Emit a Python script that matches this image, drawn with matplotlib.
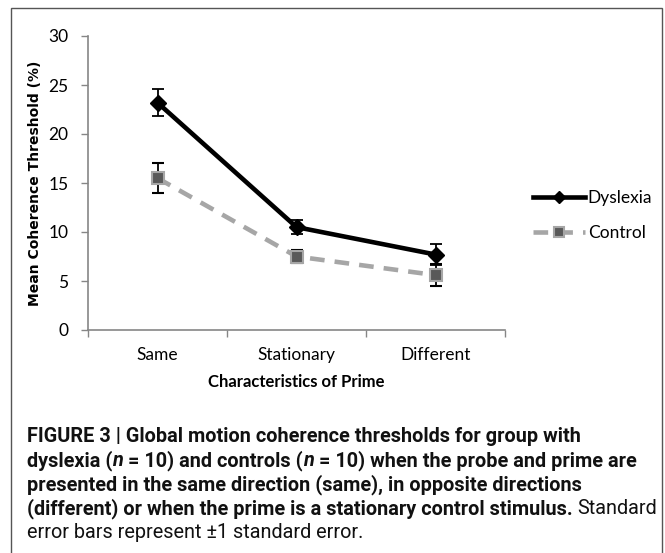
import numpy as np
import matplotlib
matplotlib.use("Agg")
import matplotlib.pyplot as plt
from matplotlib.patches import Rectangle
from matplotlib.lines import Line2D

# data
categories = ["Same", "Stationary", "Different"]
dyslexia = [23.2, 10.5, 7.7]
dyslexia_err = [1.4, 0.75, 1.1]
control = [15.5, 7.5, 5.6]
control_err = [1.5, 0.7, 1.1]

W, H = 665, 553
fig = plt.figure(figsize=(W / 100, H / 100), dpi=100)
ax = fig.add_axes([88 / W, 1 - 330 / H, (505 - 88) / W, (330 - 36) / H])

afont = "Lato"
asize = 12.5
x = np.arange(len(categories))

dys_style = dict(color="black", lw=3.3, marker="D", ms=8, mfc="black", mec="black")
con_style = dict(color="#a6a6a6", lw=3.3, ls="--", dashes=(3.2, 2.2), marker="s",
                 ms=9, mfc="#595959", mec="#a6a6a6", mew=1.5)

ax.errorbar(x, dyslexia, yerr=dyslexia_err, ecolor="black", elinewidth=1.3,
            capsize=4.5, capthick=1.3, zorder=3, **dys_style)
ax.errorbar(x, control, yerr=control_err, ecolor="black", elinewidth=1.3,
            capsize=4.5, capthick=1.3, zorder=4, **con_style)

ax.set_xlim(-0.5, 2.5)
ax.set_ylim(0, 30)
ax.set_yticks(range(0, 31, 5))
ax.set_xticks(x)
ax.set_xticklabels(categories, fontfamily=afont, fontsize=asize)
ax.set_xticks([-0.5, 0.5, 1.5, 2.5], minor=True)
ax.tick_params(axis="x", which="major", length=0, pad=12)
ax.tick_params(axis="x", which="minor", length=5, color="#868686", width=1)
ax.tick_params(axis="y", length=5, color="#868686", width=1, pad=9)
for t in ax.get_yticklabels():
    t.set_fontfamily(afont)
    t.set_fontsize(asize)
for s in ["top", "right"]:
    ax.spines[s].set_visible(False)
for s in ["left", "bottom"]:
    ax.spines[s].set_color("#868686")
    ax.spines[s].set_linewidth(1.2)

ax.set_ylabel("Mean Coherence Threshold (%)", fontfamily="DejaVu Sans",
              fontweight="bold", fontsize=10)
ax.yaxis.set_label_coords((42 - 88) / 417, 0.5)
ax.set_xlabel("Characteristics of Prime", fontfamily=afont, fontweight="bold",
              fontsize=12, labelpad=8)

leg_dys = dict(dys_style, ms=6)
leg_con = dict(con_style, ms=7)
handles = [Line2D([], [], **leg_dys), Line2D([], [], **leg_con)]
fig.legend(handles, ["Dyslexia", "Control"], loc="center left",
           bbox_to_anchor=(533 / W, 1 - 215.5 / H), frameon=False,
           handlelength=3.0, handletextpad=0.15, borderpad=0, borderaxespad=0,
           labelspacing=1.05, prop={"family": afont, "size": asize})

# frame around the figure
fig.add_artist(Rectangle((11 / W, -5 / H), (662 - 11) / W, (553 - 8 + 5) / H,
                         transform=fig.transFigure, fill=False,
                         edgecolor="#555555", lw=1))

# caption
cfont = ["Liberation Sans Narrow", "Roboto"]
csize = 14.3
renderer = fig.canvas.get_renderer()


def put_line(pieces, x0, y0):
    xx = x0
    for txt, weight, style in pieces:
        t = fig.text(xx / W, 1 - y0 / H, txt, fontfamily=cfont, fontsize=csize,
                     fontweight=weight, fontstyle=style, va="center", ha="left",
                     color="#111111")
        xx = t.get_window_extent(renderer).x1


lines = [
    [("FIGURE 3 | Global motion coherence thresholds for group with", "bold", "normal")],
    [("dyslexia (", "bold", "normal"), ("n", "bold", "italic"),
     (" = 10) and controls (", "bold", "normal"), ("n", "bold", "italic"),
     (" = 10) when the probe and prime are", "bold", "normal")],
    [("presented in the same direction (same), in opposite directions", "bold", "normal")],
    [("(different) or when the prime is a stationary control stimulus. ", "bold", "normal"),
     ("Standard", "normal", "normal")],
    [("error bars represent \u00b11 standard error.", "normal", "normal")],
]
ys = [437, 461, 485, 509, 533]
for pcs, yy in zip(lines, ys):
    put_line(pcs, 27, yy)

fig.savefig("out.png", dpi=100)
